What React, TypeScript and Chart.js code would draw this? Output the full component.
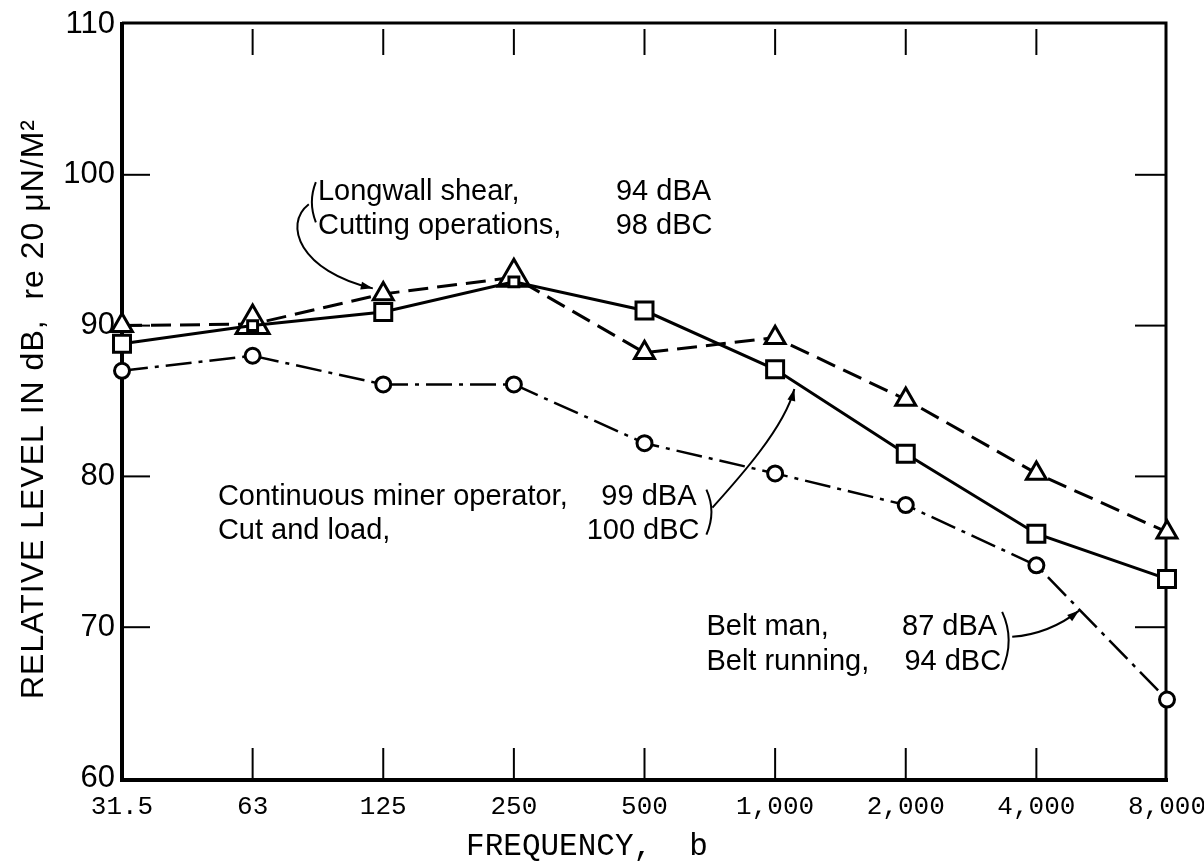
import React, { useEffect, useRef } from "react";
import { Chart, registerables } from "chart.js";

Chart.register(...registerables);

// ---- data ----
const frequencies = ["31.5", "63", "125", "250", "500", "1,000", "2,000", "4,000", "8,000"];
const longwallShear = [90.0, 90.1, 92.1, 93.2, 88.2, 89.2, 85.1, 80.2, 76.3];
const continuousMiner = [88.8, 90.0, 90.9, 92.9, 91.0, 87.1, 81.5, 76.2, 73.2];
const beltMan = [87.0, 88.0, 86.1, 86.1, 82.2, 80.2, 78.1, 74.1, 65.2];
const yTickValues = [60, 70, 80, 90, 100, 110];
const innerTickValues = [70, 80, 90, 100];

const yTitle = "RELATIVE LEVEL IN dB,  re 20 \u03BCN/M\u00B2";
const xTitle = "FREQUENCY,  b";

// annotation texts: [text, category-index, value, align]
const annotationTexts: [string, number, number, CanvasTextAlign][] = [
  ["Longwall shear,", 1.5, 98.85, "left"],
  ["Cutting operations,", 1.5, 96.59, "left"],
  ["94 dBA", 4.51, 98.85, "right"],
  ["98 dBC", 4.52, 96.59, "right"],
  ["Continuous miner operator,", 0.734, 78.66, "left"],
  ["Cut and load,", 0.734, 76.4, "left"],
  ["99 dBA", 4.398, 78.66, "right"],
  ["100 dBC", 4.421, 76.4, "right"],
  ["Belt man,", 4.474, 70.03, "left"],
  ["Belt running,", 4.474, 67.7, "left"],
  ["87 dBA", 6.7, 70.03, "right"],
  ["94 dBC", 6.73, 67.7, "right"],
];

// brackets: [top, control, bottom] in (index, value)
const brackets: number[][][] = [
  [[1.484, 99.51], [1.423, 98.19], [1.484, 96.85]],
  [[4.474, 79.12], [4.551, 77.66], [4.474, 76.14]],
  [[6.738, 71.02], [6.838, 69.16], [6.738, 67.17]],
];

// arrows: cubic curves [start, cp1, cp2, end] in (index, value)
const arrows: number[][][] = [
  [[1.43, 98.05], [1.231, 96.72], [1.361, 93.6], [1.92, 92.47]],
  [[4.52, 77.93], [4.727, 79.92], [5.071, 83.24], [5.147, 85.8]],
  [[6.815, 69.36], [7.021, 69.5], [7.189, 70.16], [7.327, 71.1]],
];

const SANS = '"Liberation Sans", Arial, sans-serif';
const MONO = '"Liberation Mono", "Courier New", monospace';

const decorPlugin = {
  id: "decor",
  beforeDatasetsDraw(chart: any) {
    const { ctx, chartArea } = chart;
    const xs = chart.scales.x;
    const ys = chart.scales.y;
    const { left, right, top, bottom } = chartArea;
    ctx.save();
    ctx.strokeStyle = "#000";
    ctx.lineCap = "butt";
    // inner ticks
    ctx.lineWidth = 2;
    for (let i = 1; i < frequencies.length - 1; i++) {
      const x = xs.getPixelForTick(i);
      ctx.beginPath();
      ctx.moveTo(x, bottom);
      ctx.lineTo(x, bottom - 30);
      ctx.stroke();
      ctx.beginPath();
      ctx.moveTo(x, top + 5);
      ctx.lineTo(x, top + 31);
      ctx.stroke();
    }
    innerTickValues.forEach((v) => {
      const y = ys.getPixelForValue(v);
      ctx.beginPath();
      ctx.moveTo(left, y);
      ctx.lineTo(left + 28, y);
      ctx.stroke();
      ctx.beginPath();
      ctx.moveTo(right, y);
      ctx.lineTo(right - 32, y);
      ctx.stroke();
    });
    // frame
    ctx.lineWidth = 4;
    ctx.beginPath();
    ctx.moveTo(left, top - 2);
    ctx.lineTo(left, bottom + 2);
    ctx.lineTo(right + 1, bottom + 2);
    ctx.stroke();
    ctx.lineWidth = 3;
    ctx.beginPath();
    ctx.moveTo(left, top - 1);
    ctx.lineTo(right - 1, top - 1);
    ctx.lineTo(right - 1, bottom);
    ctx.stroke();
    ctx.restore();
  },
  afterDraw(chart: any) {
    const { ctx } = chart;
    const xs = chart.scales.x;
    const ys = chart.scales.y;
    const P = (p: number[]) => [xs.getPixelForValue(p[0]), ys.getPixelForValue(p[1])];
    ctx.save();
    ctx.fillStyle = "#000";
    ctx.strokeStyle = "#000";
    // annotation texts
    ctx.font = `29px ${SANS}`;
    ctx.textBaseline = "middle";
    annotationTexts.forEach(([t, i, v, al]) => {
      const [x, y] = P([i, v]);
      ctx.textAlign = al;
      ctx.fillText(t, x, y);
    });
    // brackets
    ctx.lineWidth = 2;
    brackets.forEach((b) => {
      const [a, c, d] = b.map(P);
      ctx.beginPath();
      ctx.moveTo(a[0], a[1]);
      ctx.quadraticCurveTo(c[0], c[1], d[0], d[1]);
      ctx.stroke();
    });
    // arrows
    arrows.forEach((ar) => {
      const [s, c1, c2, e] = ar.map(P);
      ctx.lineWidth = 2;
      ctx.beginPath();
      ctx.moveTo(s[0], s[1]);
      ctx.bezierCurveTo(c1[0], c1[1], c2[0], c2[1], e[0], e[1]);
      ctx.stroke();
      const ang = Math.atan2(e[1] - c2[1], e[0] - c2[0]);
      const L = 12, W = 4;
      ctx.beginPath();
      ctx.moveTo(e[0], e[1]);
      ctx.lineTo(e[0] - L * Math.cos(ang) + W * Math.sin(ang), e[1] - L * Math.sin(ang) - W * Math.cos(ang));
      ctx.lineTo(e[0] - L * Math.cos(ang) - W * Math.sin(ang), e[1] - L * Math.sin(ang) + W * Math.cos(ang));
      ctx.closePath();
      ctx.fill();
    });
    // axis titles
    const ca = chart.chartArea;
    ctx.textAlign = "center";
    ctx.textBaseline = "middle";
    ctx.font = `31px ${MONO}`;
    ctx.fillText(xTitle, ca.left + (ca.right - ca.left) * 0.445, 847);
    ctx.save();
    ctx.translate(34, (ca.top + ca.bottom) / 2 + 8);
    ctx.rotate(-Math.PI / 2);
    ctx.font = `32px ${SANS}`;
    try {
      (ctx as any).letterSpacing = "1px";
    } catch (e) {}
    ctx.fillText(yTitle, 0, 0);
    ctx.restore();
    ctx.restore();
  },
};

export default function App() {
  const ref = useRef<HTMLCanvasElement>(null);
  useEffect(() => {
    const canvas = ref.current!;
    const common = {
      borderColor: "#000",
      pointBackgroundColor: "#fff",
      pointBorderColor: "#000",
      pointBorderWidth: 3,
      tension: 0,
      fill: false,
      clip: false as any,
    };
    const chart = new Chart(canvas, {
      type: "line",
      data: {
        labels: frequencies,
        datasets: [
          {
            ...common,
            label: "Continuous miner operator",
            data: continuousMiner,
            borderWidth: 3,
            pointStyle: "rect",
            pointRadius: [12, 7, 12, 7, 12, 12, 12, 12, 12],
            order: 0,
          },
          {
            ...common,
            label: "Longwall shear",
            data: longwallShear,
            borderWidth: 3,
            borderDash: [20, 9],
            pointStyle: "triangle",
            pointRadius: [12, 19, 11.5, 18, 11.5, 11.5, 11.5, 11.5, 11.5],
            order: 1,
          },
          {
            ...common,
            label: "Belt man",
            data: beltMan,
            borderWidth: 2.5,
            borderDash: [26, 7, 4, 7],
            pointStyle: "circle",
            pointRadius: 7.5,
            order: 2,
          },
        ] as any,
      },
      options: {
        responsive: false,
        animation: false,
        devicePixelRatio: 1,
        layout: { padding: { left: 0, right: 37, top: 24, bottom: 0 } },
        plugins: { legend: { display: false }, tooltip: { enabled: false } },
        scales: {
          x: {
            type: "category",
            offset: false,
            grid: { display: false, drawTicks: false },
            border: { display: false },
            ticks: {
              color: "#000",
              font: { family: MONO, size: 26 },
              padding: 14,
              maxRotation: 0,
              autoSkip: false,
            },
            afterFit: (s: any) => {
              s.height = 83;
              s.paddingLeft = 0;
              s.paddingRight = 0;
            },
          },
          y: {
            min: 60,
            max: 110,
            grid: { display: false, drawTicks: false },
            border: { display: false },
            afterBuildTicks: (s: any) => {
              s.ticks = yTickValues.map((v) => ({ value: v }));
            },
            ticks: {
              color: "#000",
              font: { family: SANS, size: 31 },
              padding: 7,
            },
            afterFit: (s: any) => {
              s.width = 122;
              s.paddingTop = 0;
              s.paddingBottom = 0;
            },
          },
        },
      },
      plugins: [decorPlugin],
    });
    return () => chart.destroy();
  }, []);
  return (
    <div style={{ position: "absolute", left: 0, top: 0, width: 1204, height: 861, background: "#fff" }}>
      <canvas ref={ref} width={1204} height={861} />
    </div>
  );
}
